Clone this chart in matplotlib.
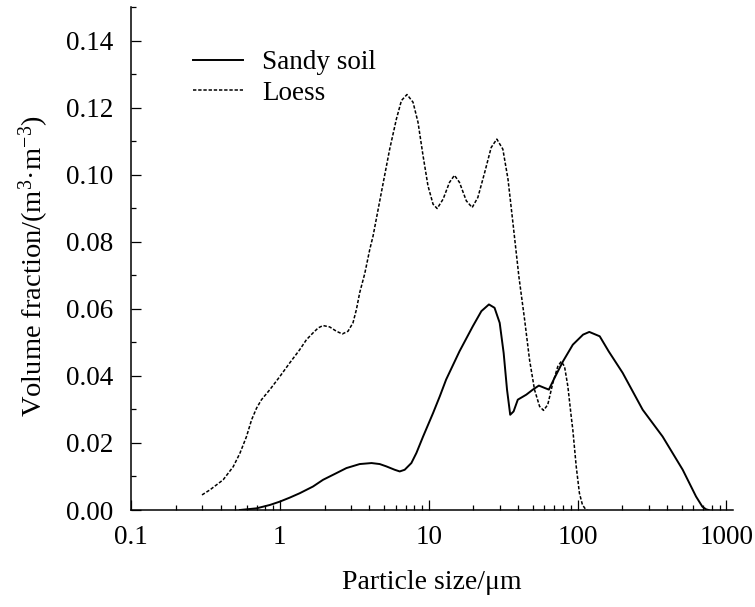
import numpy as np
import matplotlib
matplotlib.use('Agg')
import matplotlib.pyplot as plt
from matplotlib.ticker import MultipleLocator, LogLocator, FuncFormatter, NullFormatter

# Loess (dashed)
loess_x = [0.300, 0.339, 0.416, 0.486, 0.539, 0.597, 0.646, 0.698, 0.753, 0.857,
           1.0, 1.167, 1.36, 1.51, 1.67, 1.81, 1.95, 2.16, 2.40, 2.63, 2.87, 3.10,
           3.27, 3.44, 3.72, 4.02, 4.23, 4.81, 5.47, 6.07, 6.56, 7.15, 7.85, 8.48,
           9.17, 9.89, 10.7, 11.4, 12.5, 13.8, 14.9, 16.1, 17.9, 19.6, 21.4, 23.8,
           26.3, 28.7, 31.5, 34.1, 36.8, 40.4, 44.1, 47.6, 51.4, 55.6, 59.1, 63.1,
           68.3, 73.7, 77.7, 81.8, 86.1, 90.7, 93.0, 98.0, 103, 108, 113, 116]
loess_y = [0.0045, 0.0060, 0.0090, 0.0129, 0.0169, 0.0219, 0.0269, 0.0304, 0.0329,
           0.0359, 0.0398, 0.0439, 0.0478, 0.0508, 0.0528, 0.0543, 0.0550, 0.0546,
           0.0533, 0.0525, 0.0533, 0.0558, 0.0598, 0.0648, 0.0705, 0.0777, 0.0817,
           0.0947, 0.1076, 0.1166, 0.1221, 0.1239, 0.1216, 0.1156, 0.1056, 0.0967,
           0.0912, 0.0899, 0.0927, 0.0977, 0.0998, 0.0977, 0.0922, 0.0902, 0.0932,
           0.1007, 0.1081, 0.1106, 0.1076, 0.0987, 0.0857, 0.0695, 0.0568, 0.0448,
           0.0359, 0.0309, 0.0297, 0.0314, 0.0379, 0.0428, 0.0443, 0.0428, 0.0369,
           0.0279, 0.0239, 0.0130, 0.0050, 0.0015, 0.0003, 0.0]

# Sandy soil (solid)
sandy_x = [0.539, 0.698, 0.857, 1.0, 1.167, 1.36, 1.67, 1.95, 2.40, 2.80, 3.44, 4.13,
           4.69, 5.2, 5.91, 6.39, 6.90, 7.65, 8.27, 9.17, 10.7, 11.9, 13.1, 16.1,
           19.8, 22.6, 25.4, 27.7, 30.0, 31.9, 33.6, 35.3, 37.2, 39.7, 45.3, 50.1,
           55.0, 60.1, 64.2, 70.1, 79.8, 93.0, 109, 120, 141, 162, 201, 274, 373,
           509, 626, 690, 731, 760]
sandy_y = [0.0, 0.0005, 0.0015, 0.0025, 0.0037, 0.0050, 0.0070, 0.0090, 0.0110,
           0.0125, 0.0137, 0.0140, 0.0137, 0.0130, 0.0120, 0.0115, 0.0120, 0.0140,
           0.0170, 0.0219, 0.0289, 0.0340, 0.0389, 0.0473, 0.0548, 0.0593, 0.0613,
           0.0603, 0.0558, 0.0468, 0.0359, 0.0284, 0.0294, 0.0329, 0.0344, 0.0359,
           0.0371, 0.0364, 0.0359, 0.0394, 0.0443, 0.0493, 0.0523, 0.0531, 0.0518,
           0.0473, 0.0409, 0.0299, 0.0219, 0.0120, 0.0040, 0.0010, 0.0002, 0.0]

plt.rcParams['font.family'] = ['Liberation Serif', 'DejaVu Serif']
plt.rcParams['mathtext.fontset'] = 'custom'
plt.rcParams['mathtext.rm'] = 'Liberation Serif'
plt.rcParams['mathtext.it'] = 'Liberation Serif:italic'
plt.rcParams['mathtext.default'] = 'regular'

fig = plt.figure(figsize=(7.55, 6.07), dpi=100)
ax = fig.add_axes([0.1735, 0.1598, 0.7975, 0.8287])

ax.plot(sandy_x, sandy_y, 'k-', linewidth=1.4, label='Sandy soil')
ax.plot(loess_x, loess_y, color='k', linestyle=(0, (2.2, 1.2)), linewidth=1.1, label='Loess')

ax.set_xscale('log')
ax.set_xlim(0.1, 1110)
ax.set_ylim(0, 0.15)

ax.xaxis.set_major_locator(LogLocator(base=10, numticks=10))
ax.xaxis.set_minor_locator(LogLocator(base=10, subs=np.arange(2, 10), numticks=20))
ax.xaxis.set_major_formatter(FuncFormatter(lambda v, p: '%g' % v))
ax.xaxis.set_minor_formatter(NullFormatter())
ax.yaxis.set_major_locator(MultipleLocator(0.02))
ax.yaxis.set_minor_locator(MultipleLocator(0.01))
ax.yaxis.set_major_formatter(FuncFormatter(lambda v, p: '%.2f' % v))

for s in ['top', 'right']:
    ax.spines[s].set_visible(False)
for s in ['left', 'bottom']:
    ax.spines[s].set_linewidth(1.1)

ax.tick_params(which='both', direction='in', width=0.9, labelsize=19.5)
ax.tick_params(which='major', length=7.2)
ax.tick_params(which='minor', length=3.6)
ax.tick_params(axis='x', which='major', pad=11)
ax.tick_params(axis='y', which='major', pad=13)

ax.set_xlabel('Particle size/\u03bcm', fontsize=20, labelpad=14)
ax.set_ylabel('Volume fraction/(m$^{3}$\u00b7m$^{-3}$)', fontsize=20.5)
ax.yaxis.set_label_coords(-0.133, 0.484)

ax.legend(loc='upper left', bbox_to_anchor=(0.103, 0.914), frameon=False, fontsize=19.5,
          handlelength=1.85, handletextpad=0.7, labelspacing=0.2,
          borderpad=0, borderaxespad=0)

plt.savefig('out.png', dpi=100)
